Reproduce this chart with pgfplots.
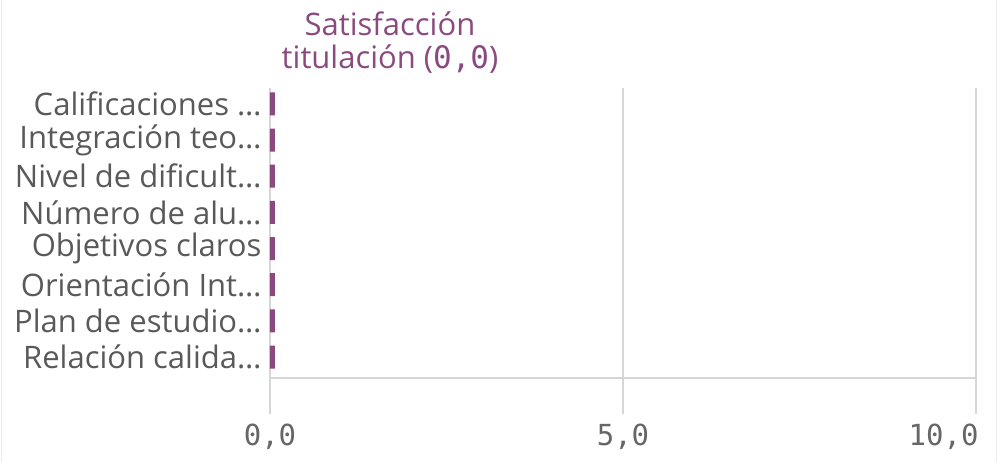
\documentclass[border=0pt]{standalone}
\usepackage{pgfplots}
\pgfplotsset{compat=1.18}
\usepackage{fontspec}
\setmainfont{Open Sans}
\newfontfamily\monof{DejaVu Sans Mono}
\definecolor{barc}{HTML}{8A4A80}
\definecolor{gridc}{HTML}{D6D6D6}
\definecolor{labc}{HTML}{595959}
\definecolor{tickc}{HTML}{666666}
\begin{document}
\begin{tikzpicture}
\useasboundingbox (0,0) rectangle (997pt,462pt);
\draw[color=black!8, line width=1pt] (1pt,0) -- (1pt,462pt);
\draw[color=black!8, line width=1pt] (996pt,0) -- (996pt,462pt);
\begin{axis}[
  at={(270pt,84pt)}, anchor=south west, scale only axis,
  width=706pt, height=290pt,
  xmin=0, xmax=10, ymin=-0.44, ymax=7.58, y dir=reverse,
  xbar, bar width=23pt,
  axis x line*=bottom, axis y line*=left,
  x axis line style={gridc, line width=1.5pt},
  y axis line style={draw=none},
  xtick={0,5}, xticklabels={{0,0},{5,0}},
  extra x ticks={10}, extra x tick labels={10{,}0},
  extra x tick style={grid=major, x tick label style={anchor=north east, xshift=6pt}},
  major tick length=0pt,
  x tick label style={font=\monof\fontsize{29}{29}\selectfont, text=tickc, yshift=-42pt},
  xmajorgrids, grid style={gridc, line width=1.5pt},
  ytick={0,1,2,3,4,5,6,7},
  yticklabels={Calificaciones \ldots, Integración teo\ldots, Nivel de dificult\ldots, Número de alu\ldots, Objetivos claros, Orientación Int\ldots, Plan de estudio\ldots, Relación calida\ldots},
  ytick style={draw=none},
  y tick label style={font=\fontsize{31}{31}\selectfont, text=labc, anchor=east, xshift=-5pt},
  clip=false,
]
\addplot[fill=barc, draw=none] coordinates {
(0.07,0) (0.07,1) (0.07,2) (0.07,3) (0.07,4) (0.07,5) (0.07,6) (0.07,7)};
\draw[gridc, line width=1.5pt] (axis cs:0,7.58) -- ++(0,-20pt);
\draw[gridc, line width=1.5pt] (axis cs:5,7.58) -- ++(0,-20pt);
\draw[gridc, line width=1.5pt] (axis cs:10,7.58) -- ++(0,-20pt);
\end{axis}
\node[text=barc, align=center, font=\fontsize{31}{33}\selectfont] at (390pt,419pt) {Satisfacción\\titulación ({\monof 0,0})};
\end{tikzpicture}
\end{document}
